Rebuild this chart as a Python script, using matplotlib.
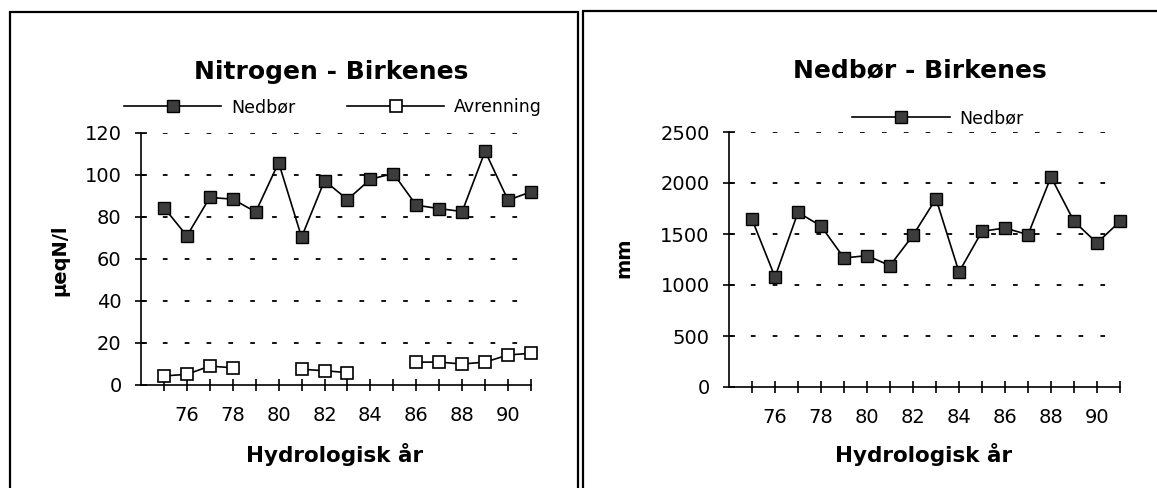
import numpy as np
import matplotlib.pyplot as plt
from matplotlib.patches import Rectangle
from matplotlib.ticker import FixedLocator, FuncFormatter

# Birkenes, hydrologisk år 1975-1991
aar = np.arange(75, 92)

# nitrogen i nedbør og avrenning (µeqN/l), NaN = mangler
n_nedbor = [84.5, 71, 89.3, 88.5, 82.4, 105.9, 70.4, 97.3, 88.3,
            98, 100.7, 85.6, 84, 82.6, 111.3, 88, 92]
n_avrenning = [4.3, 5.1, 9.0, 8.2, np.nan, np.nan, 7.5, 6.8, 5.9,
               np.nan, np.nan, 10.9, 10.9, 10.0, 10.9, 14.3, 15.1]

# nedbørmengde (mm)
nedbor_mm = [1644, 1078, 1712, 1578, 1265, 1288, 1190, 1487, 1846,
             1127, 1526, 1559, 1493, 2059, 1624, 1412, 1624]

plt.rcParams['font.family'] = ['DejaVu Sans']

W, H = 1157, 488
fig = plt.figure(figsize=(W / 100, H / 100), dpi=100)

# panel frames
for x0, x1, y0, y1 in [(10, 578, 12, 495), (583, 1165, 11, 495)]:
    fig.patches.append(Rectangle((x0 / W, 1 - y1 / H), (x1 - x0) / W, (y1 - y0) / H,
                                 transform=fig.transFigure, fill=False,
                                 edgecolor='black', linewidth=1.6))


def style_axes(ax, ymax, ystep):
    ax.set_xlim(74, 91)
    ax.set_ylim(0, ymax)
    for s in ['top', 'right']:
        ax.spines[s].set_visible(False)
    for s in ['left', 'bottom']:
        ax.spines[s].set_linewidth(1.2)
    ax.xaxis.set_major_locator(FixedLocator(aar))
    ax.xaxis.set_major_formatter(FuncFormatter(lambda v, p: f'{int(v)}' if int(v) % 2 == 0 else ''))
    ax.set_yticks(np.arange(0, ymax + 1, ystep))
    ax.tick_params(axis='both', direction='inout', length=8, width=1.2, labelsize=14)
    ax.tick_params(axis='y', pad=10)
    ax.tick_params(axis='x', pad=11)
    for yv in np.arange(ystep, ymax + 1, ystep):
        ax.axhline(yv, color='black', linewidth=1.3, linestyle=(0, (2.6, 9.5)), zorder=1)


# venstre: nitrogen
ax1 = fig.add_axes([141 / W, 103 / H, 390 / W, 252 / H])
style_axes(ax1, 120, 20)
ax1.plot(aar, n_nedbor, color='black', linewidth=1.2, marker='s', markersize=9,
         markerfacecolor='#3c3c3c', markeredgecolor='black', label='Nedbør',
         zorder=3, clip_on=False)
ax1.plot(aar, n_avrenning, color='black', linewidth=1.2, marker='s', markersize=9,
         markerfacecolor='white', markeredgecolor='black', markeredgewidth=1.2,
         label='Avrenning', zorder=3, clip_on=False)
fig.legend(handles=ax1.get_lines()[-2:], loc='center', bbox_to_anchor=(333 / W, 1 - 107 / H),
           ncol=2, frameon=False, fontsize=12.5, handlelength=5.6, handletextpad=0.55,
           columnspacing=3.0, borderpad=0)

# høyre: nedbør
ax2 = fig.add_axes([729 / W, 101 / H, 391 / W, 255 / H])
style_axes(ax2, 2500, 500)
ax2.plot(aar, nedbor_mm, color='black', linewidth=1.2, marker='s', markersize=9,
         markerfacecolor='#3c3c3c', markeredgecolor='black', label='Nedbør',
         zorder=3, clip_on=False)
fig.legend(handles=ax2.get_lines()[-1:], loc='center', bbox_to_anchor=(938 / W, 1 - 118 / H),
           frameon=False, fontsize=12.5, handlelength=5.6, handletextpad=0.55, borderpad=0)

# titler og aksetekster
fig.text(331 / W, 1 - 72 / H, 'Nitrogen - Birkenes', ha='center', va='center',
         fontsize=18, fontweight='bold')
fig.text(920 / W, 1 - 70 / H, 'Nedbør - Birkenes', ha='center', va='center',
         fontsize=18, fontweight='bold')
for xc in [335, 924]:
    fig.text(xc / W, 1 - 454 / H, 'Hydrologisk år', ha='center', va='center',
             fontsize=15.5, fontweight='bold')
fig.text(60 / W, 1 - 260 / H, 'µeqN/l', ha='center', va='center', rotation=90,
         fontsize=14, fontweight='bold')
fig.text(624 / W, 1 - 258 / H, 'mm', ha='center', va='center', rotation=90,
         fontsize=14, fontweight='bold')

fig.savefig('out.png', dpi=100)
